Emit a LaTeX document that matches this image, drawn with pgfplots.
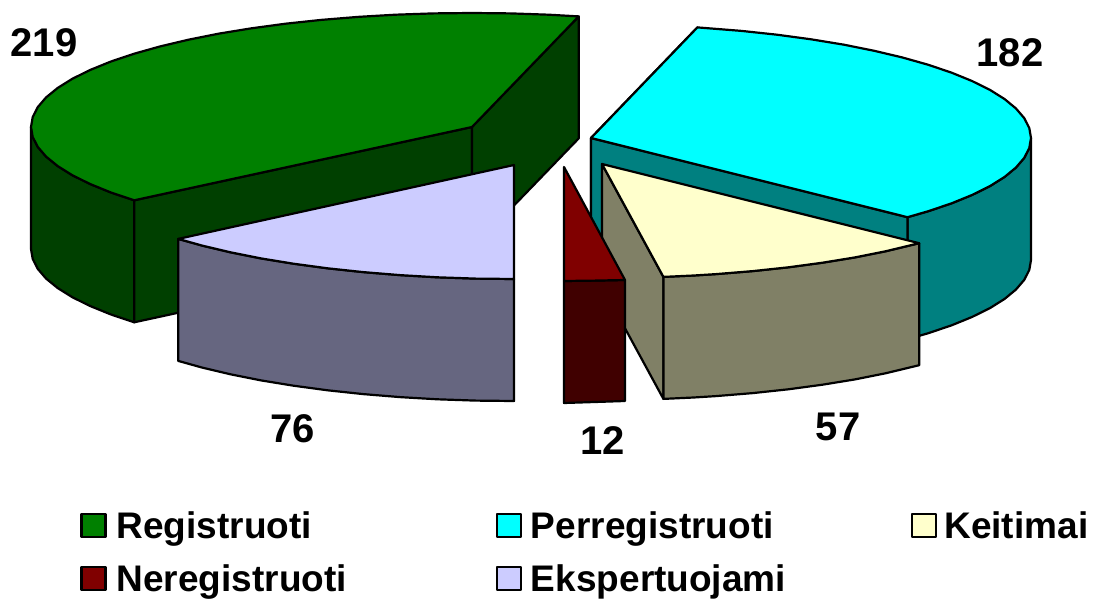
\documentclass[border=0pt]{standalone}
\usepackage{fontspec}
\setmainfont{Liberation Sans}
\usepackage{pgfplots}
\pgfplotsset{compat=1.18}
\definecolor{grn}{HTML}{008000}\definecolor{grnd}{HTML}{004000}
\definecolor{cya}{HTML}{00FFFF}\definecolor{cyad}{HTML}{008080}
\definecolor{crm}{HTML}{FFFFCC}\definecolor{crmd}{HTML}{808066}
\definecolor{mar}{HTML}{800000}\definecolor{mard}{HTML}{400000}
\definecolor{lav}{HTML}{CCCCFF}\definecolor{lavd}{HTML}{666680}
\tikzset{
  face/.style={draw=black, line width=2.2pt, line join=round, fill=#1},
  lab/.style={font=\fontsize{40}{46}\selectfont\bfseries},
}
\begin{document}
\begin{tikzpicture}
\begin{axis}[
  scale only axis, width=1093pt, height=599pt,
  xmin=0, xmax=1093, ymin=0, ymax=599, y dir=reverse,
  hide axis, clip=false,
  legend columns=3,
  legend cell align=left,
  legend image code/.code={\draw[#1, line width=2.4pt] (0pt,-11.5pt) rectangle (24pt,11.5pt);},
  legend style={draw=none, fill=none, at={(axis cs:80,511)}, anchor=north west,
    font=\fontsize{37}{42}\selectfont\bfseries,
    inner sep=0pt, row sep=25pt,
    nodes={inner sep=0pt},
    /tikz/every odd column/.append style={column sep=11pt}},
]
% green slice
\addplot[face=grnd, forget plot] coordinates {(31,127) (32.7,136.9) (37.7,146.8) (46,156.5) (57.6,166) (72.3,175.2) (90.1,184) (110.7,192.4) (134.2,200.3)
  (134.2,322.3) (110.7,314.4) (90.1,306) (72.3,297.2) (57.6,288) (46,278.5) (37.7,268.8) (32.7,258.9) (31,249)} --cycle;
\addplot[face=grnd, forget plot] coordinates {(134.2,200.3) (472,127) (472,249) (134.2,322.3)} --cycle;
\addplot[face=grnd, forget plot] coordinates {(472,127) (578.7,16.4) (578.7,138.4) (472,249)} --cycle;
\addplot[face=grn] coordinates {(472,127) (578.7,16.4) (548.6,14.7) (510.4,13.4) (472,13) (433.6,13.4) (395.4,14.7) (357.9,16.9) (321.2,19.9)
  (285.6,23.7) (251.5,28.3) (219,33.6) (188.5,39.7) (160.2,46.4) (134.2,53.7) (110.7,61.6) (90.1,70) (72.3,78.8) (57.6,88) (46,97.5)
  (37.7,107.2) (32.7,117.1) (31,127) (32.7,136.9) (37.7,146.8) (46,156.5) (57.6,166) (72.3,175.2) (90.1,184) (110.7,192.4) (134.2,200.3)} --cycle;
\addlegendentry{\makebox[378pt][l]{\hspace*{-1pt}Registruoti}}
% cyan slice
\addplot[face=cyad, forget plot] coordinates {(591,138) (697.4,27.4) (697.4,149.4) (591,260)} --cycle;
\addplot[face=cyad, forget plot] coordinates {(1031,138) (1029.3,147.9) (1024.3,157.8) (1016,167.5) (1004.5,177) (989.8,186.2) (972,195) (951.4,203.4) (928,211.3) (907.5,217.2)
  (907.5,339.2) (928,333.3) (951.4,325.4) (972,317) (989.8,308.2) (1004.5,299) (1016,289.5) (1024.3,279.8) (1029.3,269.9) (1031,260)} --cycle;
\addplot[face=cyad, forget plot] coordinates {(591,138) (907.5,217.2) (907.5,339.2) (591,260)} --cycle;
\addplot[face=cya] coordinates {(591,138) (697.4,27.4) (741.5,30.9) (777,34.7) (811,39.3) (843.4,44.6) (873.8,50.7) (902.1,57.4) (928,64.7) (951.4,72.6)
  (972,81) (989.8,89.8) (1004.5,99) (1016,108.5) (1024.3,118.2) (1029.3,128.1) (1031,138) (1029.3,147.9) (1024.3,157.8) (1016,167.5)
  (1004.5,177) (989.8,186.2) (972,195) (951.4,203.4) (928,211.3) (907.5,217.2)} --cycle;
\addlegendentry{\makebox[378pt][l]{\hspace*{-2pt}Perregistruoti}}
% cream slice
\addplot[face=crmd, forget plot] coordinates {(602,164) (663.4,276.9) (663.4,398.9) (602,286)} --cycle;
\addplot[face=crmd, forget plot] coordinates {(663.4,276.9) (693.7,275.5) (716.1,274.1) (752.8,271.1) (788.4,267.3) (822.5,262.7) (855,257.4) (885.5,251.3) (919.2,243.2)
  (919.2,365.2) (885.5,373.3) (855,379.4) (822.5,384.7) (788.4,389.3) (752.8,393.1) (716.1,396.1) (693.7,397.5) (663.4,398.9)} --cycle;
\addplot[face=crm] coordinates {(602,164) (919.2,243.2) (885.5,251.3) (855,257.4) (822.5,262.7) (788.4,267.3) (752.8,271.1) (716.1,274.1) (693.7,275.5) (663.4,276.9)} --cycle;
\addlegendentry{\hspace*{-4pt}Keitimai}
% dark red slice
\addplot[face=mard, forget plot] coordinates {(564,281) (595,280.6) (625,280) (625,401) (595,402) (564,403)} --cycle;
\addplot[face=mar] coordinates {(564,167) (625,280) (595,280.6) (564,281)} --cycle;
\addlegendentry{\hspace*{-1pt}Neregistruoti}
% lavender slice
\addplot[face=lavd, forget plot] coordinates {(514,279) (475.6,278.6) (437.4,277.3) (399.9,275.1) (363.2,272.1) (327.6,268.3) (293.5,263.7) (261,258.4) (230.5,252.3) (202.2,245.6) (178.2,238.9)
  (178.2,360.9) (202.2,367.6) (230.5,374.3) (261,380.4) (293.5,385.7) (327.6,390.3) (363.2,394.1) (399.9,397.1) (437.4,399.3) (475.6,400.6) (514,401)} --cycle;
\addplot[face=lav] coordinates {(514,165) (514,279) (475.6,278.6) (437.4,277.3) (399.9,275.1) (363.2,272.1) (327.6,268.3) (293.5,263.7) (261,258.4) (230.5,252.3) (202.2,245.6) (178.2,238.9)} --cycle;
\addlegendentry{\hspace*{-2pt}Ekspertuojami}
% value labels
\node[lab] at (axis cs:44,43) {219};
\node[lab] at (axis cs:1010,53) {182};
\node[lab] at (axis cs:838,427) {57};
\node[lab] at (axis cs:603,441) {12};
\node[lab] at (axis cs:293,429) {76};
\end{axis}
\pgfresetboundingbox
\useasboundingbox (0,0) rectangle (1093pt,599pt);
\end{tikzpicture}
\end{document}
